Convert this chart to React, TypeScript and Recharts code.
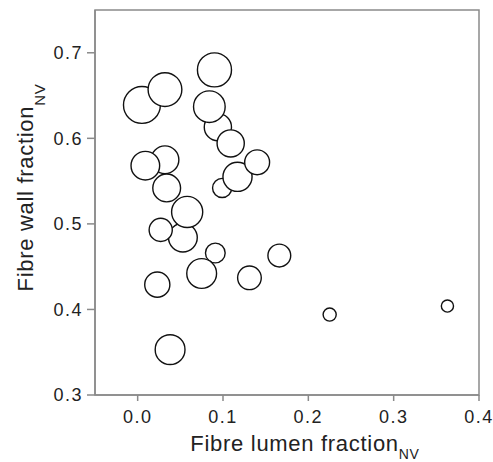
import React from "react";
import {
  ScatterChart,
  Scatter,
  XAxis,
  YAxis,
  ZAxis,
  ReferenceArea,
  Label,
} from "recharts";

// Fibre lumen fraction (NV)
const lumenFraction = [
  0.005, 0.032, 0.09, 0.094, 0.084, 0.109, 0.099, 0.117, 0.14, 0.032, 0.009, 0.034,
  0.053, 0.058, 0.027, 0.091, 0.075, 0.166, 0.131, 0.023, 0.038, 0.225, 0.363,
];
// Fibre wall fraction (NV)
const wallFraction = [
  0.639, 0.657, 0.68, 0.613, 0.637, 0.594, 0.542, 0.555, 0.572, 0.575, 0.568, 0.542,
  0.484, 0.514, 0.493, 0.466, 0.442, 0.463, 0.437, 0.429, 0.353, 0.394, 0.404,
];
// Relative bubble size (area units)
const bubbleSize = [
  340, 285, 290, 185, 250, 185, 92, 212, 155, 193, 205, 193,
  207, 242, 134, 97, 222, 130, 140, 158, 222, 43, 37,
];

const xTicks = [0.0, 0.1, 0.2, 0.3, 0.4];
const yTicks = [0.3, 0.4, 0.5, 0.6, 0.7];

const data = lumenFraction.map((x, i) => ({
  x,
  y: wallFraction[i],
  z: bubbleSize[i],
}));

const FONT = "'Liberation Sans', Arial, sans-serif";
const AXIS_COLOR = "#8a8a8a";
const TEXT_COLOR = "#222";

const XTitle = (props: any) => {
  const vb = props.viewBox || {};
  const cx = vb.x + vb.width / 2 + 18;
  const by = vb.y + 56;
  return (
    <text x={cx} y={by} textAnchor="middle" fill={TEXT_COLOR} fontFamily={FONT} fontSize={22} letterSpacing={0.7}>
      Fibre lumen fraction
      <tspan fontSize={14} dy={8}>NV</tspan>
    </text>
  );
};

const YTitle = (props: any) => {
  const vb = props.viewBox || {};
  const bx = vb.x + 33;
  const cy = 187.5;
  return (
    <text
      x={bx}
      y={cy}
      textAnchor="middle"
      transform={`rotate(-90, ${bx}, ${cy})`}
      fill={TEXT_COLOR}
      fontFamily={FONT}
      fontSize={22}
      letterSpacing={0.7}
    >
      Fibre wall fraction
      <tspan fontSize={15} dy={12}>NV</tspan>
    </text>
  );
};

export default function App() {
  return (
    <div style={{ position: "absolute", left: 0, top: 0, width: 493, height: 462, background: "#fff" }}>
      <ScatterChart width={493} height={462} margin={{ top: 10, right: 14, bottom: 0, left: 0 }}>
        <ReferenceArea
          x1={-0.05}
          x2={0.4}
          y1={0.3}
          y2={0.75}
          fill="none"
          stroke={AXIS_COLOR}
          strokeWidth={1.5}
          ifOverflow="visible"
        />
        <XAxis
          type="number"
          dataKey="x"
          domain={[-0.05, 0.4]}
          ticks={xTicks}
          tickFormatter={(v: number) => v.toFixed(1)}
          height={67}
          tickSize={6}
          tickMargin={9}
          stroke={AXIS_COLOR}
          strokeWidth={1.5}
          tick={{ fill: TEXT_COLOR, fontSize: 18, fontFamily: FONT, letterSpacing: 1.5 }}
          allowDataOverflow
        >
          <Label content={XTitle} />
        </XAxis>
        <YAxis
          type="number"
          dataKey="y"
          domain={[0.3, 0.75]}
          ticks={yTicks}
          tickFormatter={(v: number) => v.toFixed(1)}
          width={95}
          tickSize={8}
          tickMargin={4}
          stroke={AXIS_COLOR}
          strokeWidth={1.5}
          tick={{ fill: TEXT_COLOR, fontSize: 18, fontFamily: FONT, letterSpacing: 1.5 }}
          allowDataOverflow
        >
          <Label content={YTitle} />
        </YAxis>
        <ZAxis type="number" dataKey="z" domain={[0, 400]} range={[0, 400 * Math.PI]} />
        <Scatter
          data={data}
          fill="#fff"
          stroke="#111"
          strokeWidth={1.4}
          isAnimationActive={false}
        />
      </ScatterChart>
    </div>
  );
}
